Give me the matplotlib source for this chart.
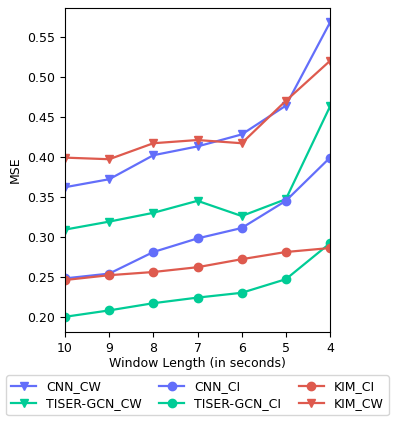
import matplotlib
matplotlib.use("Agg")
import matplotlib.pyplot as plt

window = [10, 9, 8, 7, 6, 5, 4]
cnn_cw = [0.362, 0.372, 0.402, 0.413, 0.428, 0.464, 0.568]
tiser_cw = [0.309, 0.319, 0.330, 0.345, 0.326, 0.347, 0.463]
cnn_ci = [0.248, 0.254, 0.281, 0.298, 0.311, 0.345, 0.399]
tiser_ci = [0.200, 0.208, 0.217, 0.224, 0.230, 0.247, 0.292]
kim_ci = [0.246, 0.252, 0.256, 0.262, 0.272, 0.281, 0.286]
kim_cw = [0.399, 0.397, 0.417, 0.421, 0.417, 0.470, 0.520]

blue = '#636EFA'
green = '#00CC96'
red = '#DE5A4E'

fig = plt.figure(figsize=(3.95, 4.24), dpi=100)
ax = fig.add_axes([0.1646, 0.217, 0.6709, 0.764])

ms = 6
lw = 1.6
ax.plot(window, cnn_cw, color=blue, marker='v', ms=ms, lw=lw, label='CNN_CW')
ax.plot(window, tiser_cw, color=green, marker='v', ms=ms, lw=lw, label='TISER-GCN_CW')
ax.plot(window, cnn_ci, color=blue, marker='o', ms=ms, lw=lw, label='CNN_CI')
ax.plot(window, tiser_ci, color=green, marker='o', ms=ms, lw=lw, label='TISER-GCN_CI')
ax.plot(window, kim_ci, color=red, marker='o', ms=ms, lw=lw, label='KIM_CI')
ax.plot(window, kim_cw, color=red, marker='v', ms=ms, lw=lw, label='KIM_CW')

ax.set_xlim(10, 4)
ax.set_ylim(0.181, 0.586)
ax.set_xticks(window)
ax.set_yticks([0.20, 0.25, 0.30, 0.35, 0.40, 0.45, 0.50, 0.55])
ax.set_yticklabels(['0.20', '0.25', '0.30', '0.35', '0.40', '0.45', '0.50', '0.55'])
ax.tick_params(labelsize=9)
ax.set_xlabel('Window Length (in seconds)', fontsize=9, labelpad=2)
ax.set_ylabel('MSE', fontsize=9)

fig.legend(loc='lower center', bbox_to_anchor=(0.5, 0.021), ncol=3, fontsize=9,
           frameon=True, handlelength=2.0, columnspacing=1.4, borderpad=0.4,
           labelspacing=0.3, handletextpad=0.8, borderaxespad=0)

fig.savefig('out.png', dpi=100)
